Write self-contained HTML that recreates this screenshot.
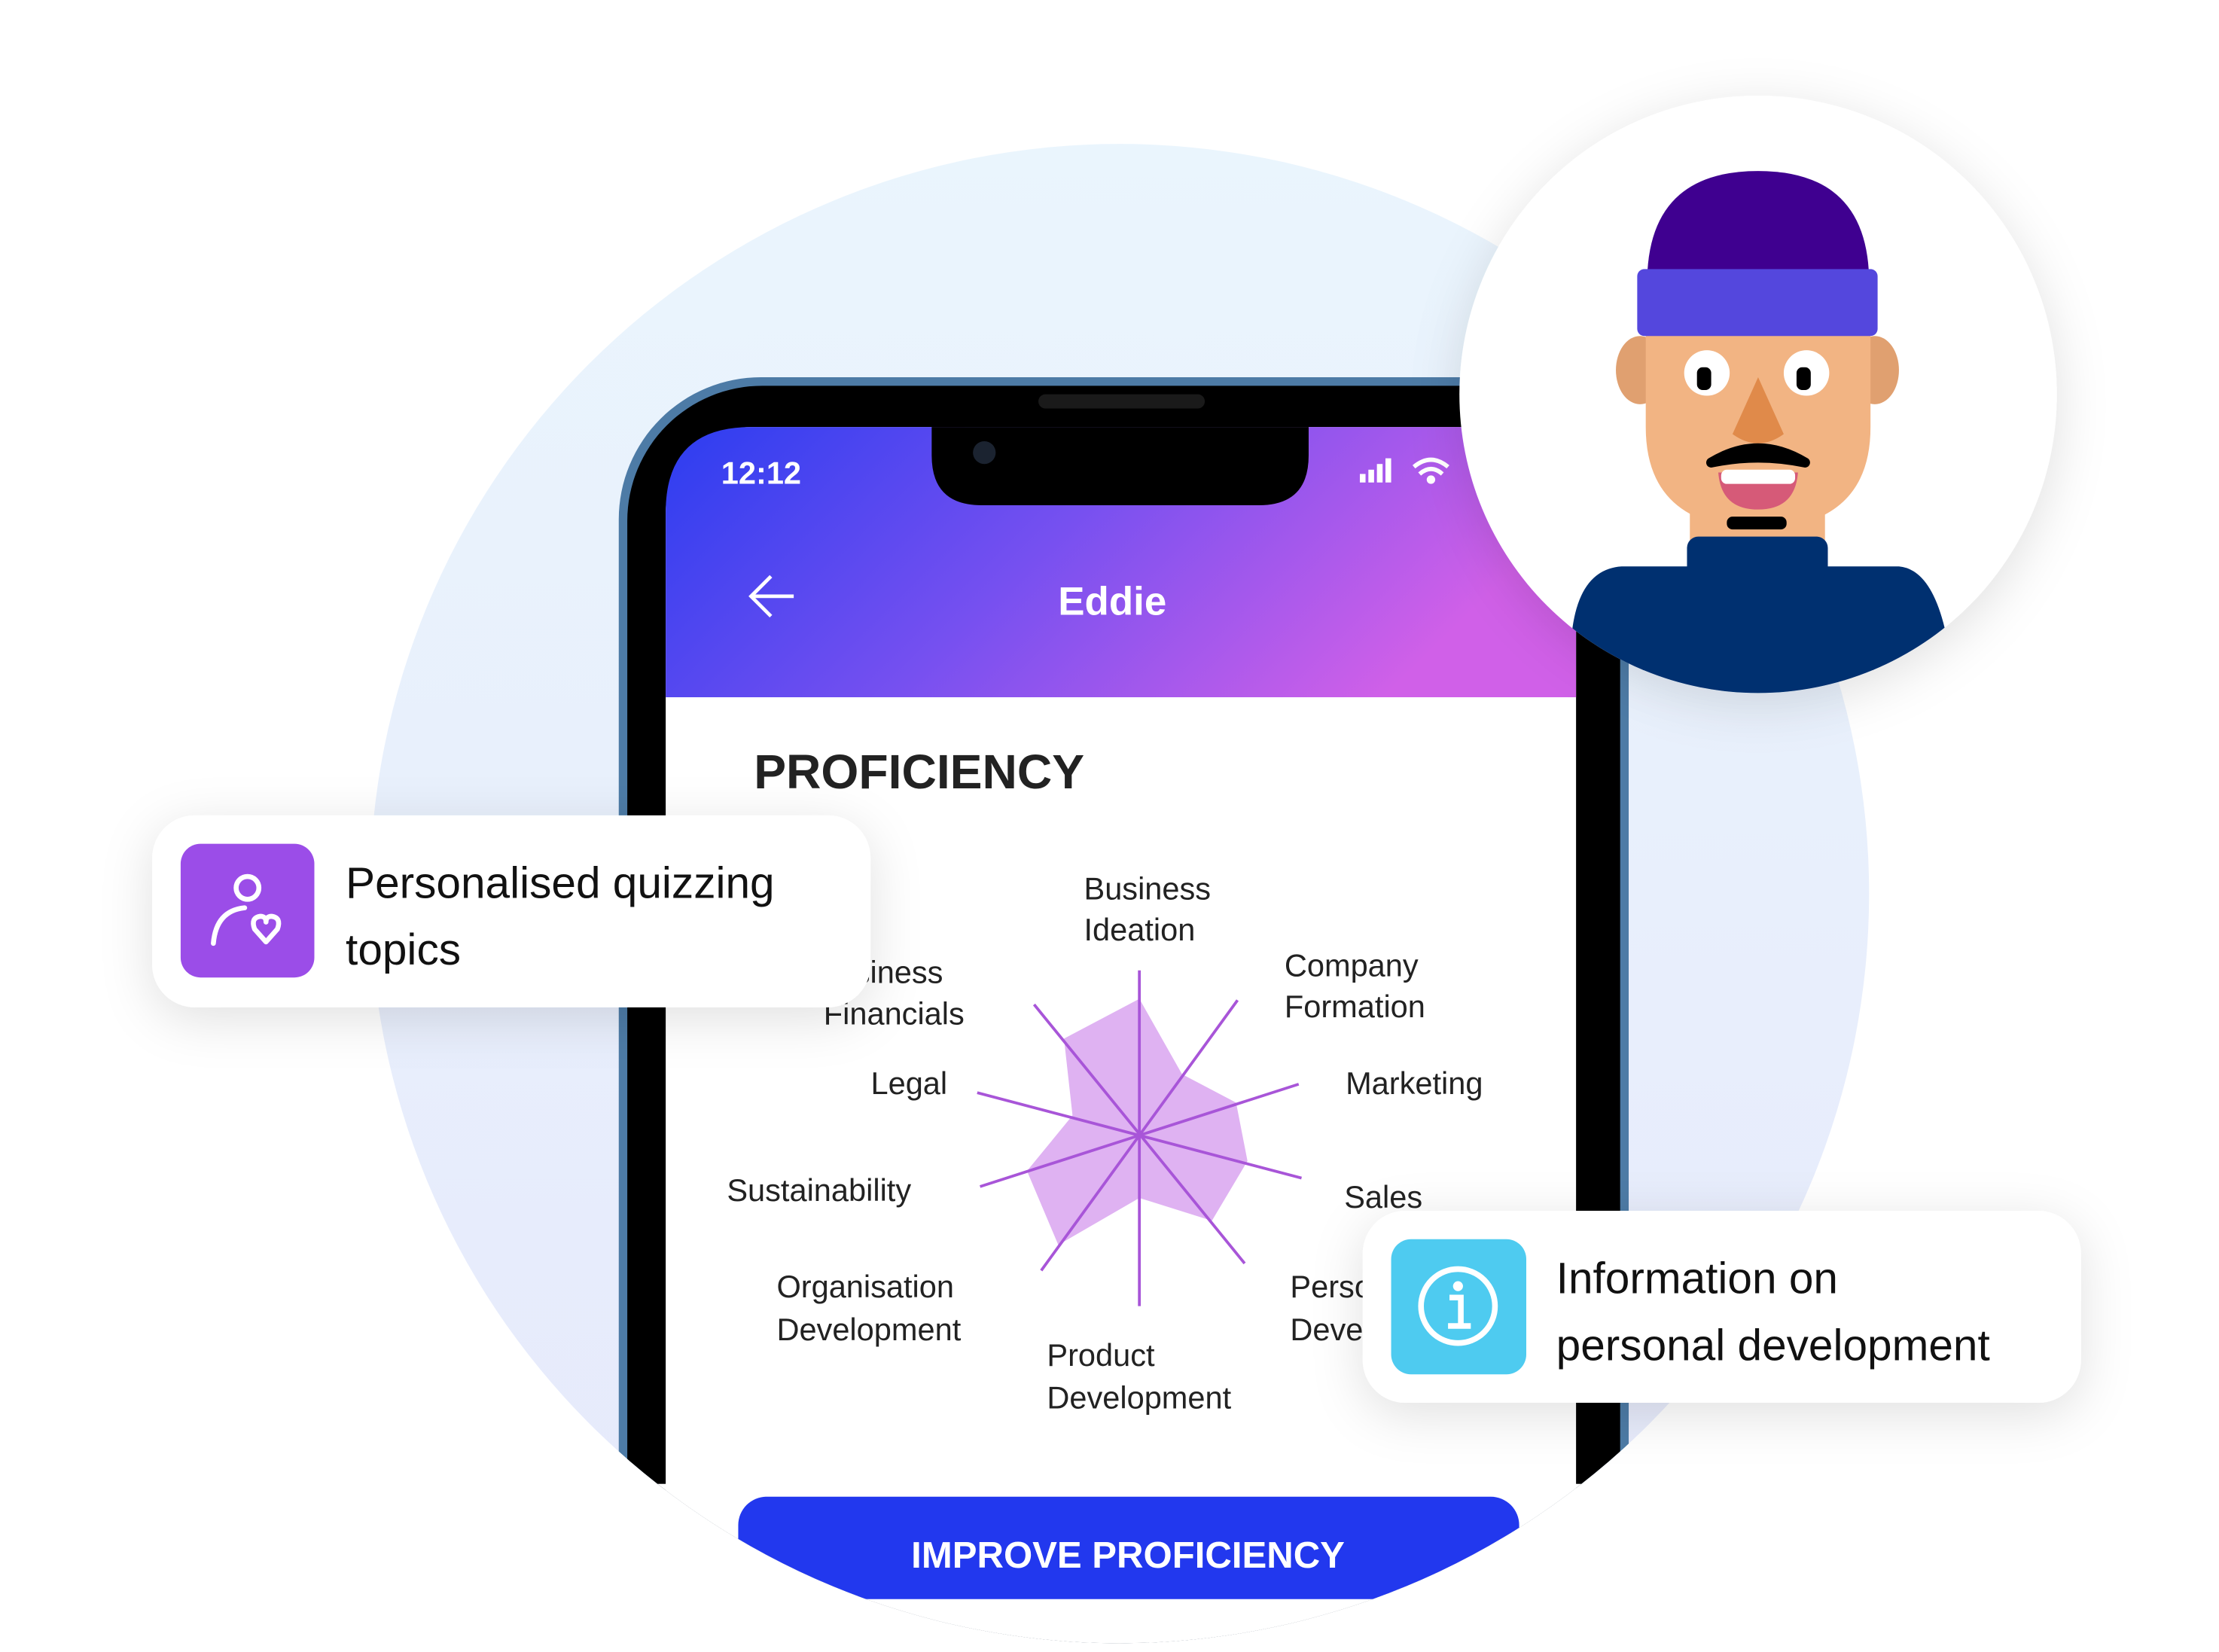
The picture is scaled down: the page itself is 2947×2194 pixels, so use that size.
<!DOCTYPE html>
<html><head><meta charset="utf-8">
<style>
html,body{margin:0;padding:0;background:#fff;width:2947px;height:2194px;overflow:hidden;}
svg{display:block;}
text{font-family:"Liberation Sans",sans-serif;}
</style></head>
<body>
<svg width="2947" height="2194" viewBox="0 0 1560 1161" xmlns="http://www.w3.org/2000/svg">
<defs>
<linearGradient id="bg" x1="0" y1="0" x2="0" y2="1">
<stop offset="0" stop-color="#eaf5fd"/><stop offset="1" stop-color="#e6e9fb"/>
</linearGradient>
<linearGradient id="hdr" x1="0" y1="0" x2="1" y2="0.3">
<stop offset="0" stop-color="#2c3df0"/><stop offset="0.5" stop-color="#7650f0"/><stop offset="1" stop-color="#d060e8"/>
</linearGradient>
<clipPath id="top"><rect x="0" y="0" width="1560" height="1124"/></clipPath>
<clipPath id="cut"><circle cx="787" cy="628" r="527"/></clipPath>
<clipPath id="av"><circle cx="1236" cy="277" r="210"/></clipPath>
<filter id="sh" x="-30%" y="-50%" width="160%" height="200%">
<feDropShadow dx="0" dy="8" stdDeviation="18" flood-color="#000" flood-opacity="0.12"/>
</filter>
</defs>
<circle cx="787" cy="628" r="527" fill="url(#bg)"/>
<g clip-path="url(#cut)">
  <rect x="435" y="265" width="710" height="1000" rx="100" fill="#4d7ba6"/>
  <rect x="441" y="271" width="698" height="990" rx="95" fill="#000"/>
  <rect x="468" y="300" width="640" height="900" rx="60" fill="#fff"/>
  <path d="M468,490 V360 Q468,300 528,300 H1048 Q1108,300 1108,360 V490 Z" fill="url(#hdr)"/>
  <path d="M655,300 H920 V320 Q920,355 885,355 H690 Q655,355 655,320 Z" fill="#000"/>
  <rect x="730" y="277" width="117" height="10" rx="5" fill="#1a1a1a"/>
  <circle cx="692" cy="318" r="8" fill="#1b2330"/>
  <text x="507" y="340" font-size="22" font-weight="bold" fill="#fff">12:12</text>
  <g fill="#fff"><rect x="956" y="333" width="4" height="6"/><rect x="962" y="330" width="4" height="9"/><rect x="968" y="326" width="4" height="13"/><rect x="974" y="322" width="4" height="17"/></g>
  <path d="M994,328 Q1006,318 1018,328 M998,333 Q1006,326 1014,333" stroke="#fff" stroke-width="3" fill="none"/>
  <circle cx="1006" cy="337" r="3" fill="#fff"/>
  <path d="M558,419 H528 M542,405 L528,419 L542,433" stroke="#fff" stroke-width="2.5" fill="none"/>
  <text x="782" y="432" font-size="28" font-weight="bold" fill="#fff" text-anchor="middle">Eddie</text>
  <text x="530" y="554" font-size="34" font-weight="bold" fill="#222">PROFICIENCY</text>
  <polygon points="801,702 831,755 869,775 877,816 852,858 801,842 744,875 722,823 754,784 748,730" fill="#dfb2f2"/>
  <g stroke="#a855d8" stroke-width="2">
    <line x1="801" y1="682" x2="801" y2="918"/>
    <line x1="870" y1="703" x2="732" y2="893"/>
    <line x1="913" y1="762" x2="689" y2="834"/>
    <line x1="915" y1="828" x2="687" y2="768"/>
    <line x1="727" y1="706" x2="875" y2="888"/>
  </g>
  <g font-size="22" fill="#222">
    <text x="762" y="632">Business</text><text x="762" y="661">Ideation</text>
    <text x="903" y="686">Company</text><text x="903" y="715">Formation</text>
    <text x="663" y="691" text-anchor="end">Business</text><text x="678" y="720" text-anchor="end">Financials</text>
    <text x="666" y="769" text-anchor="end">Legal</text>
    <text x="946" y="769">Marketing</text>
    <text x="511" y="844">Sustainability</text>
    <text x="945" y="849">Sales</text>
    <text x="546" y="912">Organisation</text><text x="546" y="942">Development</text>
    <text x="907" y="912">Personal</text><text x="907" y="942">Development</text>
    <text x="736" y="960">Product</text><text x="736" y="990">Development</text>
  </g>
  <rect x="200" y="1043" width="1200" height="200" fill="#fff"/>
  <g clip-path="url(#top)">
    <rect x="519" y="1052" width="549" height="150" rx="20" fill="#2238ee"/>
    <text x="793" y="1102" font-size="26" font-weight="bold" fill="#fff" text-anchor="middle">IMPROVE PROFICIENCY</text>
  </g>
</g>
<circle cx="1236" cy="277" r="210" fill="#fff" filter="url(#sh)"/>
<g clip-path="url(#av)">
  <path d="M1105,445 Q1110,400 1140,398 H1335 Q1358,400 1368,445 L1368,520 H1105 Z" fill="#003070"/>
  <rect x="1188" y="350" width="95" height="40" fill="#f2b483"/>
  <rect x="1186" y="377" width="99" height="30" rx="8" fill="#003070"/>
  <ellipse cx="1153" cy="260" rx="17" ry="24" fill="#e0a070"/>
  <ellipse cx="1318" cy="260" rx="17" ry="24" fill="#e0a070"/>
  <path d="M1157,230 H1315 V300 Q1315,370 1236,372 Q1157,370 1157,300 Z" fill="#f2b483"/>
  <path d="M1158,195 Q1160,120 1236,120 Q1312,120 1314,195 Z" fill="#3f0090"/>
  <rect x="1151" y="189" width="169" height="47" rx="5" fill="#5447dd"/>
  <circle cx="1200" cy="262" r="16" fill="#fff"/><circle cx="1270" cy="262" r="16" fill="#fff"/>
  <rect x="1193" y="258" width="10" height="16" rx="4" fill="#000"/><rect x="1263" y="258" width="10" height="16" rx="4" fill="#000"/>
  <path d="M1236,265 L1218,305 Q1236,318 1254,305 Z" fill="#e08a4a"/>
  <path d="M1203,325 Q1236,305 1269,325 Q1236,318 1203,325 Z" stroke="#000" stroke-width="7" fill="#000" stroke-linejoin="round"/>
  <path d="M1208,332 H1264 Q1262,358 1236,358 Q1210,358 1208,332 Z" fill="#d65a78"/>
  <rect x="1210" y="330" width="52" height="10" rx="4" fill="#fff"/>
  <rect x="1214" y="363" width="42" height="9" rx="4" fill="#000"/>
</g>
<rect x="107" y="573" width="505" height="135" rx="30" fill="#fff" filter="url(#sh)"/>
<rect x="127" y="593" width="94" height="94" rx="14" fill="#9b4de8"/>
<circle cx="174" cy="624" r="8" fill="none" stroke="#fff" stroke-width="3.5"/>
<path d="M150,663 Q152,640 172,638" fill="none" stroke="#fff" stroke-width="3.5" stroke-linecap="round"/>
<path d="M187,662 L179,653 Q176,645 183,644 Q187,644 187,648 Q187,644 191,644 Q198,645 195,653 Z" fill="none" stroke="#fff" stroke-width="3.5" stroke-linejoin="round"/>
<text x="243" y="631" font-size="31" fill="#111">Personalised quizzing</text>
<text x="243" y="678" font-size="31" fill="#111">topics</text>
<rect x="958" y="851" width="505" height="135" rx="30" fill="#fff" filter="url(#sh)"/>
<rect x="978" y="871" width="95" height="95" rx="14" fill="#4ecbf0"/>
<circle cx="1025" cy="918" r="26" fill="none" stroke="#fff" stroke-width="4"/>
<circle cx="1025" cy="904" r="3.5" fill="#fff"/>
<path d="M1019,912 H1027 V932 M1018,932 H1034" stroke="#fff" stroke-width="4" fill="none"/>
<text x="1094" y="909" font-size="31" fill="#111">Information on</text>
<text x="1094" y="956" font-size="31" fill="#111">personal development</text>
</svg>
</body></html>
